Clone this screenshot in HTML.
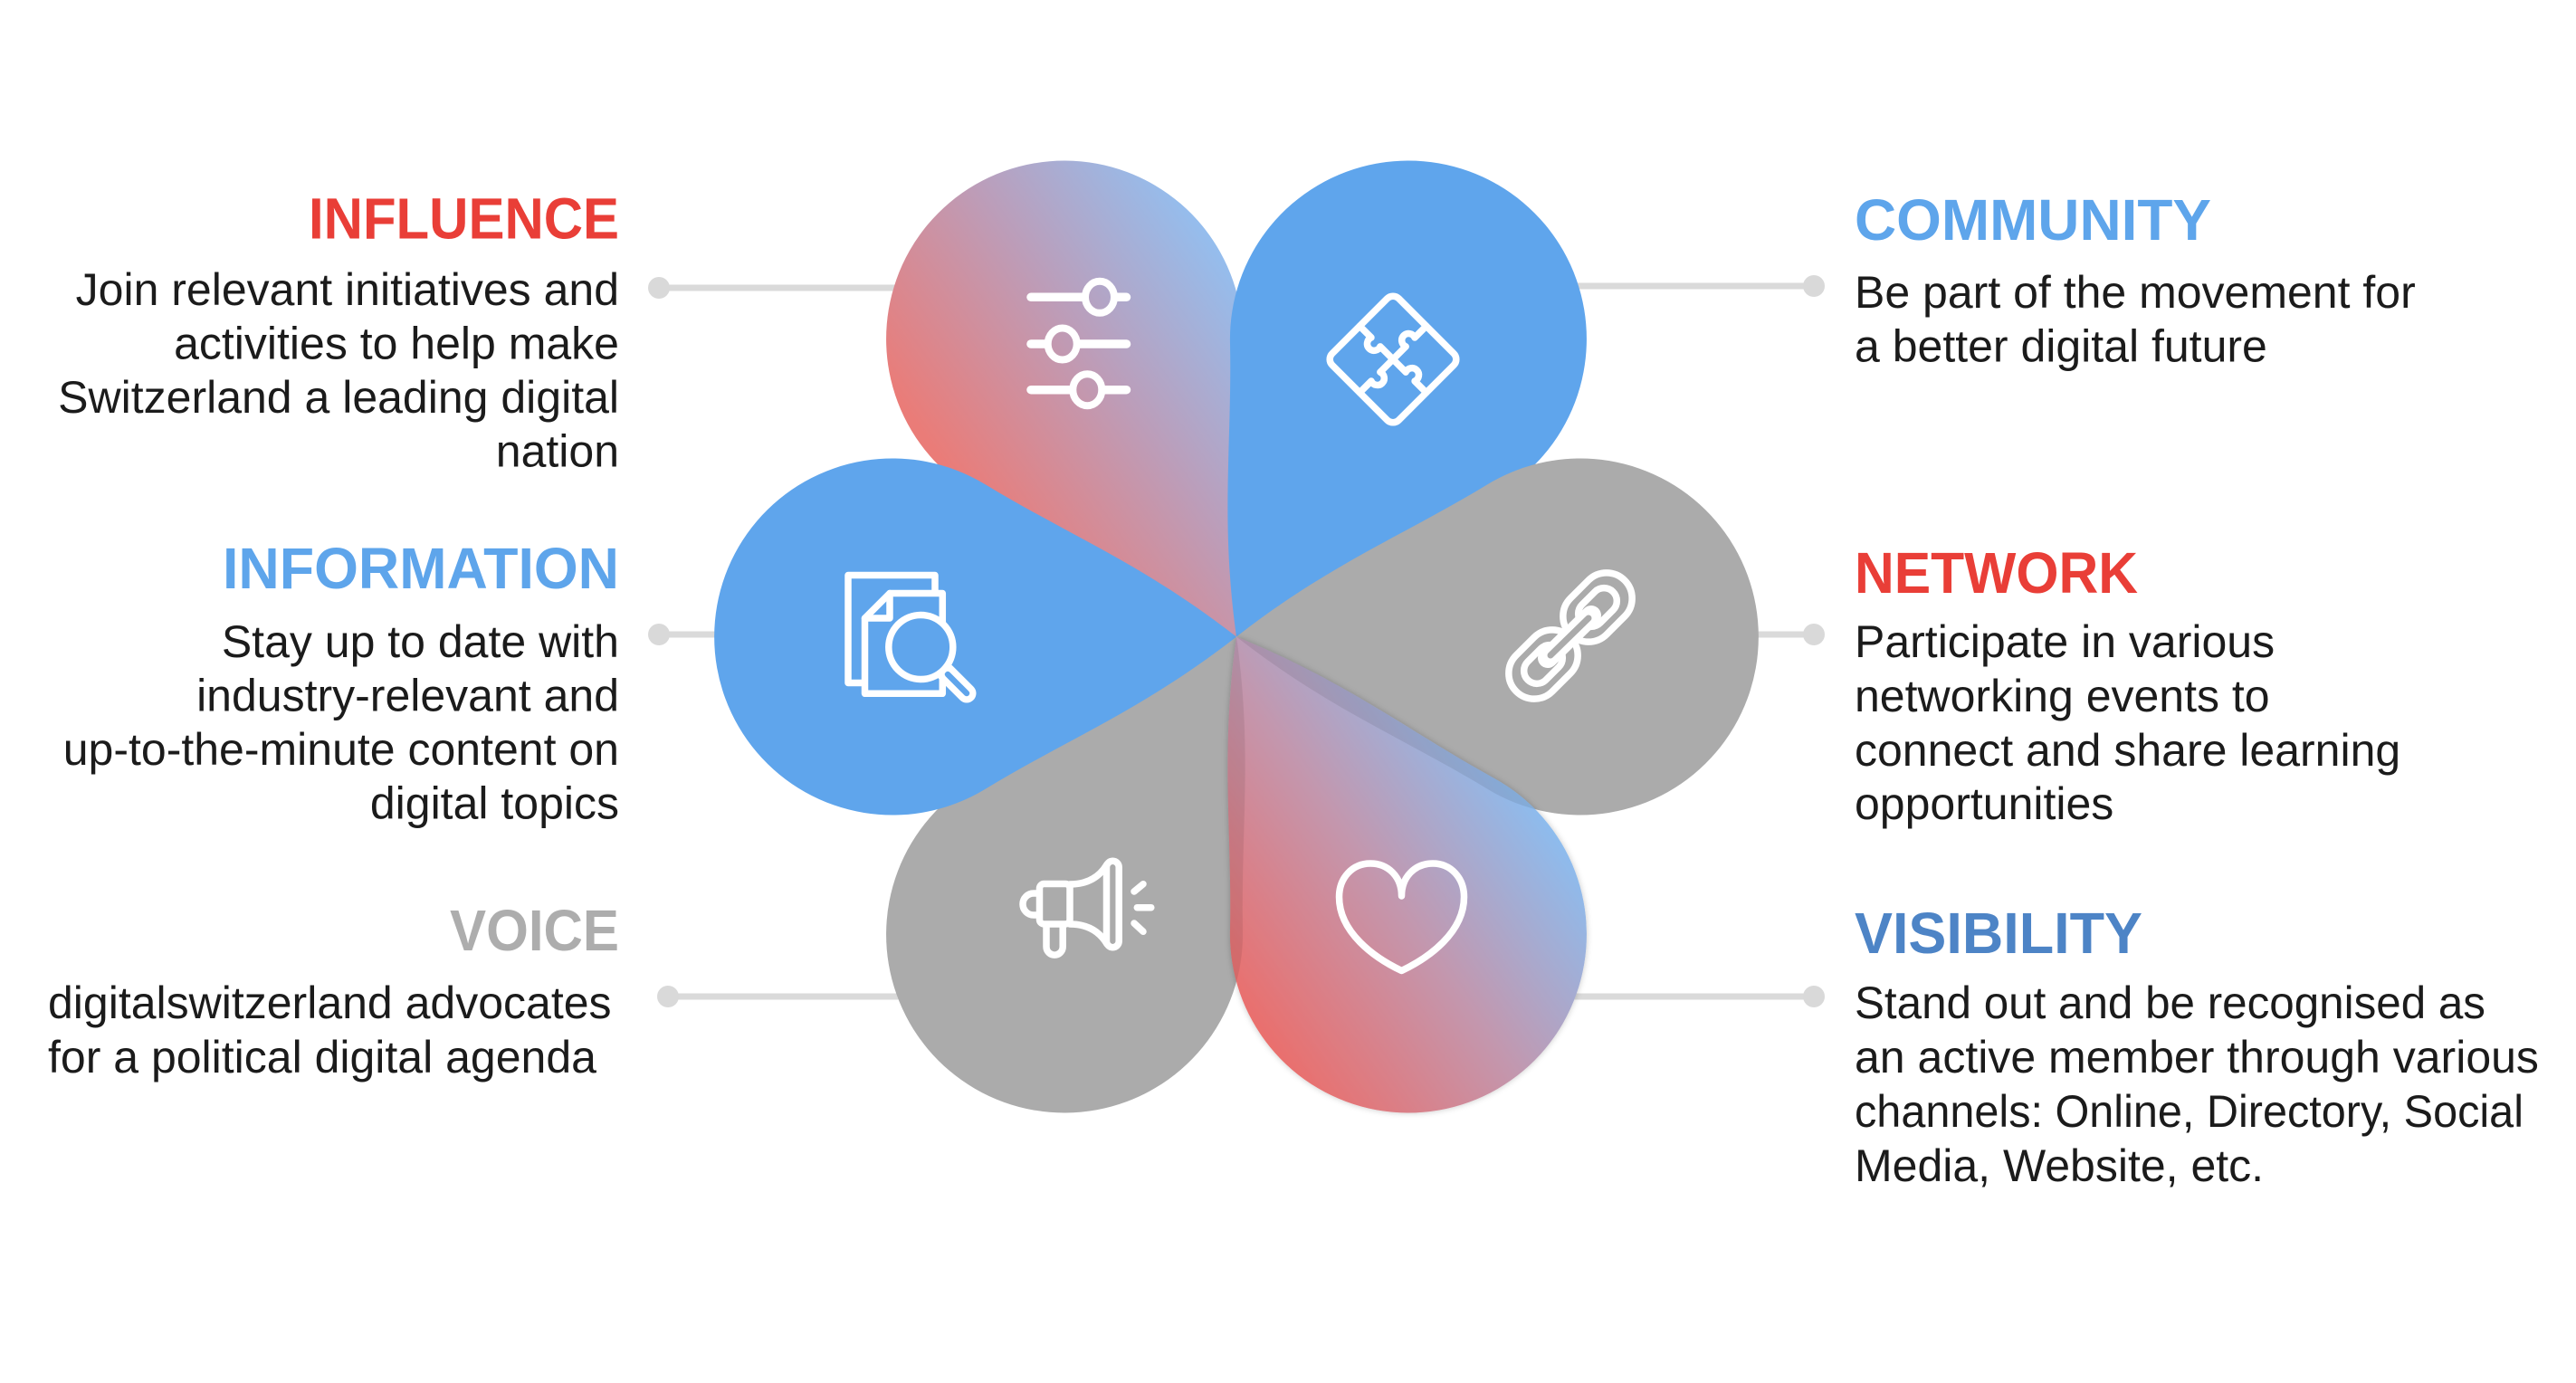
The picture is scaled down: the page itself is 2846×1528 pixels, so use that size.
<!DOCTYPE html>
<html>
<head>
<meta charset="utf-8">
<style>
html,body{margin:0;padding:0;background:#ffffff;}
svg{display:block;}
</style>
</head>
<body>
<svg width="2846" height="1528" viewBox="0 0 2846 1528" xmlns="http://www.w3.org/2000/svg">
<defs>
  <path id="petal" d="M0,0 C102.4,-80 183.8,-111.5 277.8,-168.5 A197,197 0 1,1 277.8,168.5 C183.8,111.5 102.4,80 0,0 Z"/>
  <linearGradient id="gTL" gradientUnits="userSpaceOnUse" x1="1000" y1="451" x2="1336" y2="216">
    <stop offset="0" stop-color="#EA7C78"/>
    <stop offset="0.5" stop-color="#BC9DB9"/>
    <stop offset="1" stop-color="#8FC2F5"/>
  </linearGradient>
  <linearGradient id="gBR" gradientUnits="userSpaceOnUse" x1="1300" y1="1018.6" x2="1627.6" y2="789">
    <stop offset="0" stop-color="#EB6E6B"/>
    <stop offset="0.525" stop-color="#C397AE"/>
    <stop offset="1" stop-color="#8DBCEE"/>
  </linearGradient>
  <clipPath id="cTL"><use href="#petal" transform="translate(1366,703.5) rotate(-120)"/></clipPath>
  <clipPath id="cBR"><use href="#petal" transform="translate(1366,703.5) rotate(60)"/></clipPath>
  <filter id="sh" x="-10%" y="-10%" width="120%" height="120%">
    <feDropShadow dx="0" dy="0" stdDeviation="3.5" flood-color="#000" flood-opacity="0.22"/>
  </filter>
</defs>

<rect x="0" y="0" width="2846" height="1528" fill="#ffffff"/>

<!-- connectors -->
<g stroke="#DADADA" stroke-width="7">
  <line x1="728" y1="318" x2="995" y2="318"/>
  <line x1="728" y1="701" x2="800" y2="701"/>
  <line x1="738" y1="1101" x2="1000" y2="1101"/>
  <line x1="1736" y1="316" x2="2004" y2="316"/>
  <line x1="1935" y1="701" x2="2004" y2="701"/>
  <line x1="1733" y1="1101" x2="2004" y2="1101"/>
</g>
<g fill="#D9D9D9">
  <circle cx="728" cy="318" r="12"/>
  <circle cx="728" cy="701" r="12"/>
  <circle cx="738" cy="1101" r="12"/>
  <circle cx="2004" cy="316" r="12"/>
  <circle cx="2004" cy="701" r="12"/>
  <circle cx="2004" cy="1101" r="12"/>
</g>

<!-- petals -->
<rect x="700" y="100" width="1400" height="1250" fill="url(#gTL)" clip-path="url(#cTL)"/>
<use href="#petal" transform="translate(1366,703.5) rotate(-60)" fill="#5FA5EC"/>
<use href="#petal" transform="translate(1366,703.5)" fill="#ABABAB"/>
<use href="#petal" transform="translate(1366,703.5) rotate(120)" fill="#ABABAB"/>
<use href="#petal" transform="translate(1366,703.5) rotate(180)" fill="#5FA5EC"/>
<g filter="url(#sh)">
  <rect x="700" y="100" width="1400" height="1250" fill="url(#gBR)" clip-path="url(#cBR)"/>
</g>
<g clip-path="url(#cBR)" fill="#000000" opacity="0.08">
  <use href="#petal" transform="translate(1366,703.5)"/>
  <use href="#petal" transform="translate(1366,703.5) rotate(120)"/>
</g>

<!-- icons -->
<g fill="none" stroke="#ffffff" stroke-width="7.5" stroke-linecap="round" stroke-linejoin="round">
  <!-- sliders -->
  <g stroke-width="9.5">
    <line x1="1139" y1="328.3" x2="1244.5" y2="328.3"/>
    <line x1="1139" y1="380" x2="1244.5" y2="380"/>
    <line x1="1139" y1="430.7" x2="1244.5" y2="430.7"/>
  </g>
  <ellipse cx="1215" cy="328.3" rx="16" ry="17.5" fill="url(#gTL)" stroke-width="8"/>
  <ellipse cx="1173.7" cy="380" rx="16" ry="17.5" fill="url(#gTL)" stroke-width="8"/>
  <ellipse cx="1201.3" cy="430.7" rx="16" ry="17.5" fill="url(#gTL)" stroke-width="8"/>

  <!-- puzzle -->
  <g transform="translate(1539,397) rotate(45)">
    <rect x="-52" y="-52" width="104" height="104" rx="9"/>
    <path d="M-52,0 H-34 A7.5,7.5 0 1,0 -20,0 H0"/>
    <path d="M0,-52 V-34 A7.5,7.5 0 1,0 0,-20 V0"/>
    <path d="M52,0 H34 A7.5,7.5 0 1,0 20,0 H0"/>
    <path d="M0,52 V34 A7.5,7.5 0 1,0 0,20 V0"/>
  </g>

  <!-- document search -->
  <path d="M955,754.5 H937 V635.5 H1033 V655"/>
  <path d="M983,655.5 H1041.3 V766.3 H955.5 V683 Z"/>
  <path d="M983,655.5 V683 H955.5"/>
  <line x1="1045" y1="743" x2="1068" y2="766" stroke-width="21"/>
  <line x1="1047" y1="745" x2="1068" y2="766" stroke="#5FA5EC" stroke-width="6.5"/>
  <circle cx="1017.3" cy="715" r="35.5" fill="#5FA5EC"/>

  <!-- chain -->
  <g transform="translate(1765,671) rotate(-45)">
    <rect x="-42.25" y="-28.25" width="84.5" height="56.5" rx="28.25"/>
    <rect x="-24.25" y="-14.25" width="48.5" height="28.5" rx="14.25"/>
  </g>
  <g transform="translate(1705,734) rotate(-45)">
    <rect x="-42.25" y="-28.25" width="84.5" height="56.5" rx="28.25"/>
    <rect x="-24.25" y="-14.25" width="48.5" height="28.5" rx="14.25"/>
  </g>
  <line x1="1710" y1="727" x2="1758" y2="680" stroke-width="22"/>
  <line x1="1713" y1="724" x2="1755" y2="683" stroke="#ABABAB" stroke-width="7"/>

  <!-- megaphone -->
  <path d="M1148,987 H1142 A12,12 0 0,0 1142,1011 H1148"/>
  <rect x="1148.5" y="976.5" width="33.5" height="44.5" rx="5"/>
  <path d="M1182,977 Q1210,977 1223,955"/>
  <path d="M1182,1021 Q1210,1021 1223,1043"/>
  <rect x="1222.5" y="951.3" width="13.7" height="95.4" rx="6.85"/>
  <path d="M1156,1022 V1046 A9.1,9.1 0 0,0 1174.2,1046 V1022"/>
  <line x1="1253" y1="985" x2="1263" y2="976.7"/>
  <line x1="1256.3" y1="1002.7" x2="1271.8" y2="1002.7"/>
  <line x1="1253" y1="1020" x2="1263" y2="1029.3"/>

  <!-- heart -->
  <path d="M1548.5,990 C1548.5,968 1533,954 1514,954 C1494,954 1479.5,970 1479.5,991 C1479.5,1030 1518,1058 1548.5,1072.5 C1579,1058 1617.5,1030 1617.5,991 C1617.5,970 1603,954 1583,954 C1564,954 1548.5,968 1548.5,990 Z"/>
</g>

<!-- text -->
<g font-family="'Liberation Sans', Arial, sans-serif">
  <g font-weight="700" font-size="64">
    <text x="684" y="263.5" text-anchor="end" fill="#E93E37" textLength="343" lengthAdjust="spacingAndGlyphs">INFLUENCE</text>
    <text x="684" y="650" text-anchor="end" fill="#5EA5EB" textLength="438" lengthAdjust="spacingAndGlyphs">INFORMATION</text>
    <text x="684" y="1050" text-anchor="end" fill="#ADADAD" textLength="187" lengthAdjust="spacingAndGlyphs">VOICE</text>
    <text x="2049" y="265" fill="#5EA5EB" textLength="394" lengthAdjust="spacingAndGlyphs">COMMUNITY</text>
    <text x="2049" y="655" fill="#E93E37" textLength="313" lengthAdjust="spacingAndGlyphs">NETWORK</text>
    <text x="2049" y="1053" fill="#4D84C6" textLength="318" lengthAdjust="spacingAndGlyphs">VISIBILITY</text>
  </g>
  <g font-size="50" fill="#1b1b1b">
    <g text-anchor="end">
      <text x="684" y="337">Join relevant initiatives and</text>
      <text x="684" y="396.5">activities to help make</text>
      <text x="684" y="456">Switzerland a leading digital</text>
      <text x="684" y="515.5">nation</text>

      <text x="684" y="726">Stay up to date with</text>
      <text x="684" y="785.5">industry-relevant and</text>
      <text x="684" y="845">up-to-the-minute content on</text>
      <text x="684" y="904.5">digital topics</text>
    </g>
    <text x="53" y="1125">digitalswitzerland advocates</text>
    <text x="53" y="1185">for a political digital agenda</text>

    <text x="2049" y="340">Be part of the movement for</text>
    <text x="2049" y="399.5">a better digital future</text>

    <text x="2049" y="726">Participate in various</text>
    <text x="2049" y="786">networking events to</text>
    <text x="2049" y="846">connect and share learning</text>
    <text x="2049" y="905">opportunities</text>

    <text x="2049" y="1125" textLength="697" lengthAdjust="spacingAndGlyphs">Stand out and be recognised as</text>
    <text x="2049" y="1185">an active member through various</text>
    <text x="2049" y="1245" textLength="739" lengthAdjust="spacingAndGlyphs">channels: Online, Directory, Social</text>
    <text x="2049" y="1305">Media, Website, etc.</text>
  </g>
</g>
</svg>
</body>
</html>
